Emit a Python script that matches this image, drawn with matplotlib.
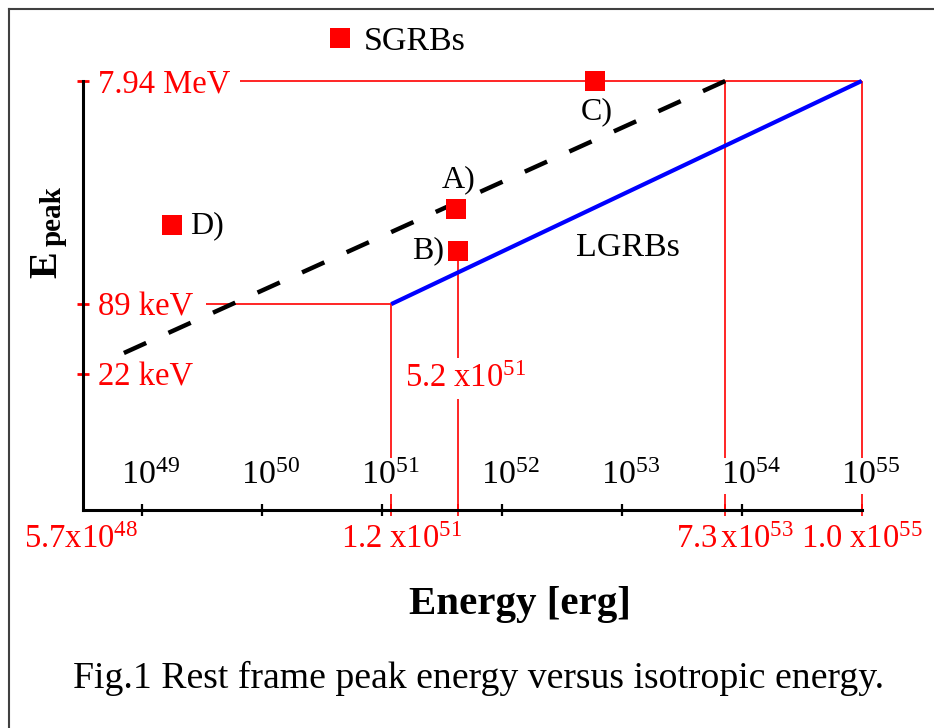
import matplotlib.pyplot as plt
from matplotlib.lines import Line2D
from matplotlib.transforms import offset_copy, blended_transform_factory

plt.rcParams['font.family'] = ['Liberation Serif', 'DejaVu Serif']
plt.rcParams['mathtext.fontset'] = 'custom'
plt.rcParams['mathtext.rm'] = 'Liberation Serif'
plt.rcParams['mathtext.it'] = 'Liberation Serif:italic'
plt.rcParams['mathtext.bf'] = 'Liberation Serif:bold'

RED = '#ff0000'

# energies in erg, peak energies in keV
lgrb_e = [1.2e51, 1.0e55]
lgrb_ep = [89, 7940]
# drawn from the top end so the dash pattern starts at the corner
sgrb_fit_e = [7.3e53, 5.7e48]
sgrb_fit_ep = [7940, 30]

sgrb_names = ['A)', 'B)', 'C)', 'D)']
sgrb_e = [4.2e51, 4.3e51, 6.0e52, 1.8e49]
sgrb_ep = [604, 259, 7940, 437]
name_e = [4.4e51, 2.43e51, 6.2e52, 3.5e49]
name_ep = [1085, 259, 4256, 429]

# red guide lines
hline_ep = [7940, 89]
hline_from = [6.6e49, 3.4e49]
hline_to = [1.0e55, 1.2e51]
vline_e = [1.2e51, 4.3e51, 7.3e53, 1.0e55]
vline_top = [89, 259, 7940, 7940]

ytick_vals = [22, 89, 7940]
ytick_text = ['22 keV', '89 keV', '7.94 MeV']
decades = [49, 50, 51, 52, 53, 54, 55]
red_xlabels = [r'$5.7\mathrm{x}10^{48}$', r'$1.2\ \mathrm{x}10^{51}$',
               r'$7.3\,\mathrm{x}10^{53}$', r'$1.0\ \mathrm{x}10^{55}$']

fig = plt.figure(figsize=(9.34, 7.28), dpi=100)
W, H = 934, 728


def px(x, y):
    return x / W, 1 - y / H


ax = fig.add_axes([83 / W, 1 - 510 / H, 817 / W, 490 / H])
xmin, xmax = 10 ** 48.51, 10 ** 55.32
ymin, ymax = 10 ** 0.15, 10 ** 4.433
ax.set_xscale('log')
ax.set_yscale('log')
ax.set_xlim(xmin, xmax)
ax.set_ylim(ymin, ymax)

# guide lines
ax.hlines(hline_ep, hline_from, hline_to, color=RED, lw=1.2, zorder=1)
ax.vlines(vline_e, ymin, vline_top, color=RED, lw=1.2, zorder=1)

# relations
ax.plot(lgrb_e, lgrb_ep, color='#0000ff', lw=3, solid_capstyle='butt', zorder=2)
ax.plot(sgrb_fit_e, sgrb_fit_ep, color='black', lw=3.2, dashes=(5.5, 5.5), zorder=2)

# short bursts
ax.plot(sgrb_e, sgrb_ep, 's', color=RED, ms=15, mew=0, zorder=3)
for name, e, ep in zip(sgrb_names, name_e, name_ep):
    ax.text(e, ep, name, fontsize=23, ha='center', va='center', zorder=4)
ax.text(1.13e53, 298, 'LGRBs', fontsize=24.5, ha='center', va='center_baseline')

leg = ax.legend(handles=[Line2D([], [], marker='s', ls='none', color=RED, ms=15, mew=0)],
                labels=['SGRBs'], frameon=False, fontsize=24.5, handlelength=0.95,
                handletextpad=0.22, borderpad=0, borderaxespad=0,
                loc='center left', bbox_to_anchor=px(324, 42),
                bbox_transform=fig.transFigure)

# axes
for s in ['top', 'right']:
    ax.spines[s].set_visible(False)
ax.spines['left'].set_linewidth(2.2)
ax.spines['bottom'].set_linewidth(2.2)
ax.spines['left'].set_bounds(ymin, 7940)
ax.spines['bottom'].set_bounds(xmin, 1.0e55)

ax.set_xticks([10.0 ** d for d in decades[:-1]])
ax.set_xticks(vline_e, minor=True)
ax.set_yticks(ytick_vals)
ax.set_yticks([], minor=True)
ax.tick_params(axis='x', which='major', direction='inout', length=8, width=1.6,
               color='black', labelbottom=False)
ax.tick_params(axis='x', which='minor', direction='inout', length=8, width=1.2,
               color=RED, labelbottom=False)
ax.tick_params(axis='y', which='major', direction='inout', length=8.5, width=2,
               color=RED, labelleft=False)

# y labels inside the axes
ytrans = blended_transform_factory(ax.transAxes, ax.transData)
for v, t in zip(ytick_vals, ytick_text):
    ax.text(15 / 817, v, t, transform=ytrans, color=RED, fontsize=23.5,
            ha='left', va='center_baseline')

# decade labels above the axis
white = dict(facecolor='white', edgecolor='none', pad=2)
xtrans = blended_transform_factory(ax.transData, ax.transAxes)
for d in decades:
    ax.text(10.0 ** d, 34 / 490, r'$10^{%d}$' % d, fontsize=24.5, ha='center', va='center',
            transform=offset_copy(xtrans, fig=fig, x=9, y=0, units='dots'),
            bbox=white, zorder=5)

# red energy labels below the axis
red_label_e = [5.7e48, 1.2e51, 7.3e53, 1.0e55]
red_shift = [-31, 10, 10, 0]
for e, t, dx in zip(red_label_e, red_xlabels, red_shift):
    ax.text(e, -30 / 490, t, color=RED, fontsize=23.5, ha='center', va='center',
            transform=offset_copy(xtrans, fig=fig, x=dx, y=0, units='dots'),
            clip_on=False)
ax.text(4.3e51, 131.5 / 490, r'$5.2\ \mathrm{x}10^{51}$', color=RED, fontsize=23.5,
        ha='center', va='center', bbox=dict(facecolor='white', edgecolor='none', pad=4),
        transform=offset_copy(xtrans, fig=fig, x=8, y=0, units='dots'), zorder=5)

# axis titles
fig.text(*px(47, 265), 'E', fontsize=29, weight='bold', rotation=90,
         ha='center', va='center')
fig.text(*px(53, 216), 'peak', fontsize=21, weight='bold', rotation=90,
         ha='center', va='center')
fig.text(*px(520, 614), 'Energy [erg]', fontsize=29.5, weight='bold',
         ha='center', va='baseline')
fig.text(*px(479, 688), 'Fig.1 Rest frame peak energy versus isotropic energy.',
         fontsize=27.2, ha='center', va='baseline')

# page frame
fig.add_artist(Line2D([9 / W, 9 / W], [0, 1 - 9 / H], transform=fig.transFigure,
                      color='#404040', lw=1.5))
fig.add_artist(Line2D([9 / W, 1], [1 - 9 / H, 1 - 9 / H], transform=fig.transFigure,
                      color='#404040', lw=1.5))

fig.savefig('out.png', dpi=100)
